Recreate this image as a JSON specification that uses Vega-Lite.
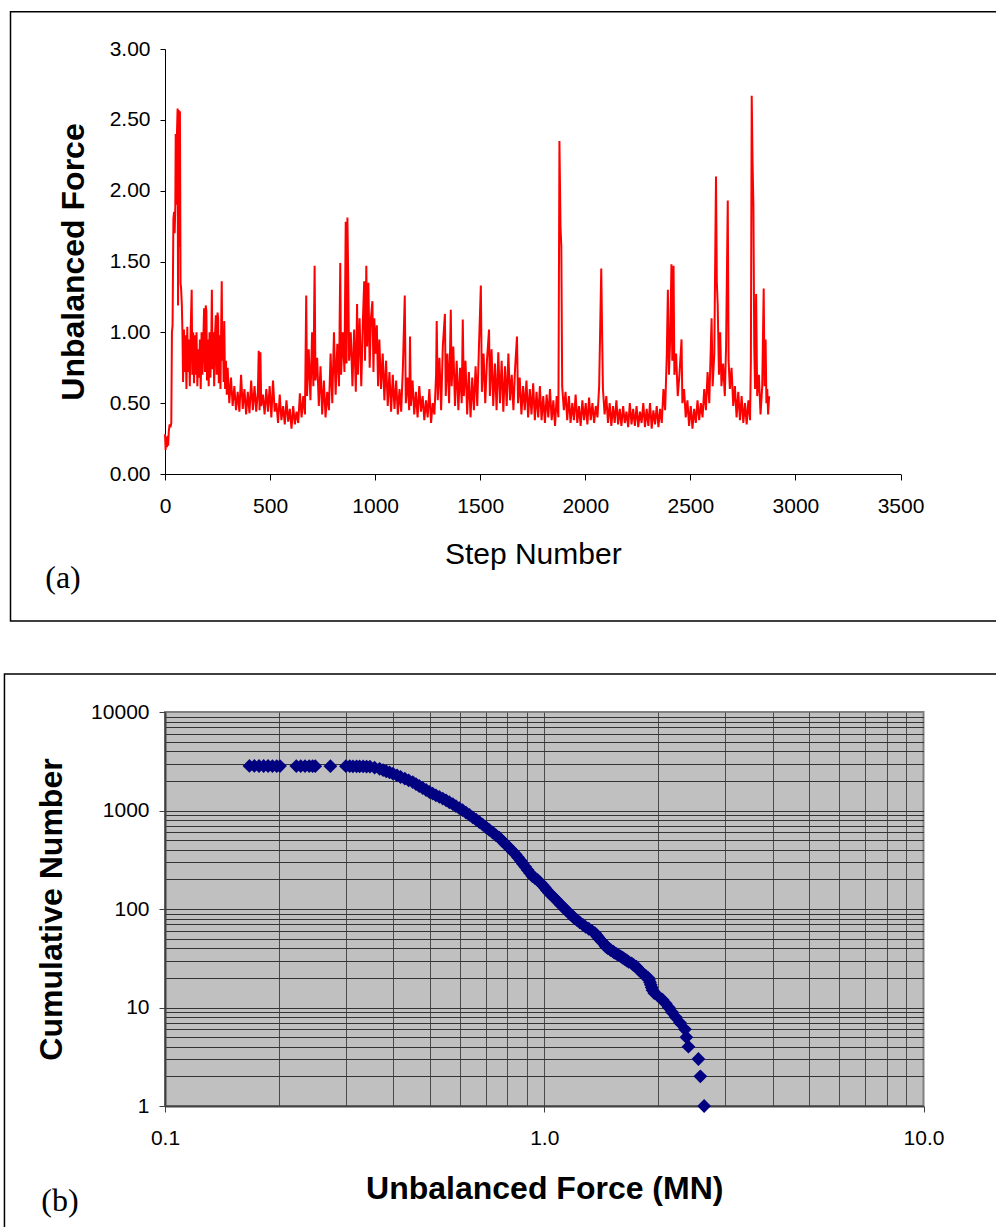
{
  "$schema": "https://vega.github.io/schema/vega-lite/v6.json",
  "background": "#ffffff",
  "padding": {"left": 2, "top": 10, "right": 0, "bottom": 0},
  "columns": 1,
  "align": "none",
  "spacing": 50,
  "config": {
    "view": {"stroke": null},
    "axis": {
      "labelFont": "Liberation Sans",
      "titleFont": "Liberation Sans",
      "labelFontSize": 21,
      "labelColor": "#000000",
      "titleColor": "#000000",
      "domainColor": "#000000",
      "tickColor": "#000000",
      "domainWidth": 1,
      "tickWidth": 1,
      "labelFlush": false,
      "labelOverlap": false,
      "grid": false
    }
  },
  "concat": [
    {
      "width": 735.5,
      "height": 425,
      "layer": [
        {
          "data": {"values": [
            {"step":0,"force":0.28},{"step":3,"force":0.17},{"step":6,"force":0.26},{"step":9,"force":0.19},{"step":12,"force":0.27},{"step":15,"force":0.20},{"step":18,"force":0.30},{"step":22,"force":0.35},{"step":26,"force":0.33},{"step":30,"force":0.36},
            {"step":33,"force":1.00},{"step":36,"force":1.05},{"step":40,"force":1.80},{"step":43,"force":1.85},{"step":46,"force":1.70},{"step":49,"force":1.88},{"step":51,"force":2.40},{"step":54,"force":1.90},{"step":57,"force":2.41},{"step":60,"force":2.58},
            {"step":62,"force":1.19},{"step":65,"force":2.57},{"step":68,"force":1.60},{"step":71,"force":2.56},{"step":74,"force":1.35},{"step":77,"force":1.30},{"step":80,"force":1.20},{"step":83,"force":1.00},{"step":86,"force":0.65},{"step":90,"force":1.02},
            {"step":94,"force":0.72},{"step":98,"force":0.98},{"step":102,"force":0.60},{"step":106,"force":1.04},{"step":110,"force":0.72},{"step":114,"force":0.95},{"step":118,"force":0.62},{"step":122,"force":1.00},{"step":127,"force":1.30},{"step":130,"force":0.70},
            {"step":134,"force":1.00},{"step":138,"force":0.64},{"step":142,"force":0.98},{"step":146,"force":0.70},{"step":150,"force":1.00},{"step":154,"force":0.62},{"step":158,"force":0.88},{"step":162,"force":0.68},{"step":166,"force":0.95},{"step":170,"force":0.60},
            {"step":174,"force":1.00},{"step":178,"force":0.70},{"step":182,"force":0.92},{"step":186,"force":1.17},{"step":190,"force":0.72},{"step":194,"force":1.19},{"step":197,"force":1.15},{"step":200,"force":0.66},{"step":204,"force":0.95},{"step":208,"force":0.62},
            {"step":212,"force":1.00},{"step":216,"force":0.68},{"step":220,"force":0.90},{"step":223,"force":1.30},{"step":226,"force":0.74},{"step":230,"force":1.00},{"step":234,"force":0.62},{"step":238,"force":0.98},{"step":242,"force":1.12},{"step":246,"force":0.70},
            {"step":250,"force":1.14},{"step":253,"force":1.10},{"step":256,"force":0.64},{"step":260,"force":0.98},{"step":264,"force":0.60},{"step":267,"force":1.00},{"step":270,"force":1.36},{"step":273,"force":0.80},{"step":276,"force":1.02},{"step":279,"force":0.65},
            {"step":282,"force":1.08},{"step":286,"force":0.60},{"step":290,"force":0.80},{"step":294,"force":0.56},{"step":298,"force":0.75},{"step":306,"force":0.50},{"step":314,"force":0.68},{"step":322,"force":0.48},{"step":330,"force":0.62},{"step":338,"force":0.45},
            {"step":346,"force":0.58},{"step":354,"force":0.44},{"step":362,"force":0.70},{"step":370,"force":0.46},{"step":378,"force":0.60},{"step":386,"force":0.42},{"step":394,"force":0.58},{"step":402,"force":0.43},{"step":410,"force":0.66},{"step":418,"force":0.45},
            {"step":426,"force":0.62},{"step":434,"force":0.44},{"step":442,"force":0.58},{"step":446,"force":0.87},{"step":450,"force":0.45},{"step":454,"force":0.86},{"step":458,"force":0.48},{"step":466,"force":0.56},{"step":474,"force":0.42},{"step":482,"force":0.60},
            {"step":490,"force":0.44},{"step":498,"force":0.62},{"step":506,"force":0.40},{"step":514,"force":0.66},{"step":522,"force":0.44},{"step":530,"force":0.50},{"step":538,"force":0.36},{"step":546,"force":0.56},{"step":554,"force":0.38},{"step":562,"force":0.48},
            {"step":570,"force":0.35},{"step":578,"force":0.52},{"step":586,"force":0.37},{"step":594,"force":0.46},{"step":602,"force":0.32},{"step":610,"force":0.48},{"step":618,"force":0.35},{"step":626,"force":0.44},{"step":634,"force":0.36},{"step":642,"force":0.57},
            {"step":650,"force":0.40},{"step":658,"force":0.55},{"step":666,"force":0.42},{"step":672,"force":1.26},{"step":676,"force":0.55},{"step":684,"force":0.88},{"step":692,"force":0.52},{"step":700,"force":1.00},{"step":706,"force":0.62},{"step":712,"force":1.47},
            {"step":716,"force":0.66},{"step":724,"force":0.82},{"step":732,"force":0.48},{"step":740,"force":0.76},{"step":748,"force":0.42},{"step":756,"force":0.66},{"step":764,"force":0.40},{"step":772,"force":0.58},{"step":780,"force":0.45},{"step":788,"force":0.85},
            {"step":796,"force":0.50},{"step":804,"force":1.00},{"step":812,"force":0.56},{"step":820,"force":0.92},{"step":828,"force":0.62},{"step":834,"force":1.49},{"step":838,"force":0.70},{"step":846,"force":1.00},{"step":854,"force":0.72},{"step":860,"force":1.78},
            {"step":864,"force":0.78},{"step":868,"force":1.81},{"step":872,"force":1.37},{"step":876,"force":0.80},{"step":884,"force":1.00},{"step":892,"force":0.62},{"step":900,"force":1.02},{"step":908,"force":0.58},{"step":914,"force":1.20},{"step":918,"force":0.70},
            {"step":926,"force":1.10},{"step":934,"force":0.62},{"step":942,"force":1.10},{"step":948,"force":1.36},{"step":952,"force":0.80},{"step":958,"force":1.47},{"step":962,"force":0.90},{"step":968,"force":1.35},{"step":974,"force":0.75},{"step":980,"force":1.10},
            {"step":987,"force":1.22},{"step":992,"force":0.72},{"step":996,"force":1.10},{"step":1002,"force":0.85},{"step":1008,"force":1.05},{"step":1014,"force":0.62},{"step":1020,"force":0.95},{"step":1028,"force":0.60},{"step":1036,"force":0.85},{"step":1044,"force":0.52},
            {"step":1052,"force":0.80},{"step":1060,"force":0.48},{"step":1068,"force":0.72},{"step":1076,"force":0.44},{"step":1084,"force":0.70},{"step":1092,"force":0.46},{"step":1100,"force":0.66},{"step":1108,"force":0.42},{"step":1116,"force":0.60},{"step":1124,"force":0.44},
            {"step":1132,"force":0.75},{"step":1141,"force":1.26},{"step":1146,"force":0.50},{"step":1154,"force":0.68},{"step":1162,"force":0.45},{"step":1166,"force":0.97},{"step":1170,"force":0.48},{"step":1178,"force":0.66},{"step":1186,"force":0.42},{"step":1194,"force":0.58},
            {"step":1202,"force":0.40},{"step":1210,"force":0.62},{"step":1218,"force":0.44},{"step":1226,"force":0.55},{"step":1234,"force":0.38},{"step":1242,"force":0.52},{"step":1250,"force":0.40},{"step":1258,"force":0.60},{"step":1266,"force":0.36},{"step":1274,"force":0.50},
            {"step":1282,"force":0.42},{"step":1290,"force":0.70},{"step":1293,"force":1.08},{"step":1298,"force":0.52},{"step":1306,"force":0.82},{"step":1314,"force":0.45},{"step":1322,"force":0.90},{"step":1332,"force":1.13},{"step":1336,"force":0.55},{"step":1344,"force":0.85},
            {"step":1352,"force":0.50},{"step":1360,"force":1.16},{"step":1364,"force":0.62},{"step":1372,"force":0.90},{"step":1380,"force":0.48},{"step":1388,"force":0.80},{"step":1396,"force":0.45},{"step":1404,"force":0.75},{"step":1412,"force":0.50},{"step":1417,"force":1.09},
            {"step":1422,"force":0.55},{"step":1430,"force":0.80},{"step":1438,"force":0.42},{"step":1446,"force":0.72},{"step":1454,"force":0.40},{"step":1462,"force":0.68},{"step":1470,"force":0.45},{"step":1478,"force":0.76},{"step":1486,"force":0.48},{"step":1494,"force":0.90},
            {"step":1503,"force":1.33},{"step":1508,"force":0.58},{"step":1516,"force":0.85},{"step":1524,"force":0.50},{"step":1532,"force":0.80},{"step":1542,"force":1.02},{"step":1546,"force":0.55},{"step":1554,"force":0.88},{"step":1562,"force":0.48},{"step":1570,"force":0.78},
            {"step":1578,"force":0.45},{"step":1586,"force":0.86},{"step":1594,"force":0.50},{"step":1602,"force":0.80},{"step":1610,"force":0.44},{"step":1618,"force":0.76},{"step":1626,"force":0.48},{"step":1634,"force":0.85},{"step":1642,"force":0.52},{"step":1650,"force":0.70},
            {"step":1658,"force":0.45},{"step":1666,"force":0.75},{"step":1675,"force":0.97},{"step":1680,"force":0.50},{"step":1688,"force":0.68},{"step":1696,"force":0.42},{"step":1704,"force":0.62},{"step":1712,"force":0.45},{"step":1720,"force":0.66},{"step":1728,"force":0.40},
            {"step":1736,"force":0.60},{"step":1744,"force":0.42},{"step":1752,"force":0.64},{"step":1760,"force":0.38},{"step":1768,"force":0.58},{"step":1776,"force":0.40},{"step":1784,"force":0.62},{"step":1792,"force":0.38},{"step":1800,"force":0.55},{"step":1808,"force":0.36},
            {"step":1816,"force":0.56},{"step":1824,"force":0.40},{"step":1832,"force":0.60},{"step":1840,"force":0.38},{"step":1848,"force":0.52},{"step":1856,"force":0.34},{"step":1864,"force":0.55},{"step":1872,"force":0.40},{"step":1877,"force":2.35},{"step":1882,"force":1.75},
            {"step":1886,"force":1.60},{"step":1890,"force":0.62},{"step":1898,"force":0.45},{"step":1906,"force":0.58},{"step":1914,"force":0.38},{"step":1922,"force":0.55},{"step":1930,"force":0.36},{"step":1938,"force":0.50},{"step":1946,"force":0.38},{"step":1954,"force":0.56},
            {"step":1962,"force":0.36},{"step":1970,"force":0.48},{"step":1978,"force":0.34},{"step":1986,"force":0.52},{"step":1994,"force":0.38},{"step":2002,"force":0.50},{"step":2010,"force":0.35},{"step":2018,"force":0.54},{"step":2026,"force":0.38},{"step":2034,"force":0.50},
            {"step":2042,"force":0.36},{"step":2050,"force":0.48},{"step":2058,"force":0.40},{"step":2066,"force":0.62},{"step":2076,"force":1.45},{"step":2080,"force":1.00},{"step":2084,"force":0.60},{"step":2092,"force":0.42},{"step":2100,"force":0.55},{"step":2108,"force":0.36},
            {"step":2116,"force":0.50},{"step":2124,"force":0.34},{"step":2132,"force":0.48},{"step":2140,"force":0.36},{"step":2148,"force":0.52},{"step":2156,"force":0.35},{"step":2164,"force":0.46},{"step":2172,"force":0.34},{"step":2180,"force":0.48},{"step":2188,"force":0.36},
            {"step":2196,"force":0.44},{"step":2204,"force":0.33},{"step":2212,"force":0.50},{"step":2220,"force":0.35},{"step":2228,"force":0.46},{"step":2236,"force":0.34},{"step":2244,"force":0.48},{"step":2252,"force":0.33},{"step":2260,"force":0.44},{"step":2268,"force":0.36},
            {"step":2276,"force":0.50},{"step":2284,"force":0.33},{"step":2292,"force":0.46},{"step":2300,"force":0.34},{"step":2308,"force":0.50},{"step":2316,"force":0.32},{"step":2324,"force":0.45},{"step":2332,"force":0.35},{"step":2340,"force":0.48},{"step":2348,"force":0.33},
            {"step":2356,"force":0.46},{"step":2364,"force":0.36},{"step":2372,"force":0.60},{"step":2380,"force":0.45},{"step":2388,"force":0.85},{"step":2393,"force":1.30},{"step":2398,"force":0.70},{"step":2404,"force":0.95},{"step":2410,"force":1.48},{"step":2414,"force":0.80},
            {"step":2420,"force":1.47},{"step":2424,"force":0.70},{"step":2432,"force":0.85},{"step":2440,"force":0.55},{"step":2448,"force":0.70},{"step":2458,"force":0.95},{"step":2462,"force":0.50},{"step":2470,"force":0.60},{"step":2478,"force":0.40},{"step":2486,"force":0.52},
            {"step":2494,"force":0.34},{"step":2502,"force":0.48},{"step":2510,"force":0.32},{"step":2518,"force":0.46},{"step":2526,"force":0.36},{"step":2534,"force":0.52},{"step":2542,"force":0.38},{"step":2550,"force":0.50},{"step":2558,"force":0.40},{"step":2566,"force":0.60},
            {"step":2574,"force":0.45},{"step":2582,"force":0.72},{"step":2590,"force":0.50},{"step":2601,"force":1.10},{"step":2606,"force":0.62},{"step":2614,"force":0.85},{"step":2622,"force":2.10},{"step":2626,"force":1.35},{"step":2630,"force":1.20},{"step":2636,"force":0.70},
            {"step":2642,"force":1.00},{"step":2648,"force":0.62},{"step":2656,"force":0.78},{"step":2664,"force":0.55},{"step":2670,"force":0.90},{"step":2678,"force":1.93},{"step":2682,"force":0.80},{"step":2688,"force":0.60},{"step":2696,"force":0.75},{"step":2704,"force":0.48},
            {"step":2712,"force":0.62},{"step":2720,"force":0.40},{"step":2728,"force":0.58},{"step":2736,"force":0.38},{"step":2744,"force":0.55},{"step":2752,"force":0.36},{"step":2760,"force":0.50},{"step":2768,"force":0.35},{"step":2776,"force":0.52},{"step":2784,"force":0.38},
            {"step":2788,"force":0.80},{"step":2792,"force":2.67},{"step":2796,"force":2.20},{"step":2800,"force":1.90},{"step":2804,"force":0.90},{"step":2808,"force":0.60},{"step":2813,"force":1.27},{"step":2818,"force":0.55},{"step":2826,"force":0.70},{"step":2834,"force":0.42},
            {"step":2842,"force":0.62},{"step":2849,"force":1.31},{"step":2853,"force":0.62},{"step":2858,"force":0.95},{"step":2862,"force":0.50},{"step":2866,"force":0.60},{"step":2870,"force":0.42},{"step":2875,"force":0.55}
          ]},
          "mark": {"type": "line", "color": "#FF0000", "strokeWidth": 2},
          "encoding": {
            "x": {
              "field": "step", "type": "quantitative",
              "scale": {"domain": [0, 3500], "nice": false, "zero": false},
              "axis": {"title": "Step Number", "values": [0, 500, 1000, 1500, 2000, 2500, 3000, 3500], "format": "d", "tickSize": 6, "labelPadding": 15, "titleFontSize": 30, "titleFontWeight": "normal", "titlePadding": 23}
            },
            "y": {
              "field": "force", "type": "quantitative",
              "scale": {"domain": [0, 3], "nice": false},
              "axis": {"title": "Unbalanced Force", "values": [0, 0.5, 1, 1.5, 2, 2.5, 3], "format": ".2f", "tickSize": 5, "labelPadding": 10, "titleFontSize": 32, "titleFontWeight": "bold", "titlePadding": 19}
            }
          }
        },
        {
          "data": {"values": [{"label": "frame"}]},
          "mark": {"type": "rect", "filled": false, "stroke": "#000000", "strokeWidth": 1.5},
          "encoding": {
            "x": {"datum": -735.2, "type": "quantitative"},
            "x2": {"datum": 4004},
            "y": {"datum": 3.263, "type": "quantitative"},
            "y2": {"datum": -1.0376}
          }
        },
        {
          "data": {"values": [{"label": "(a)"}]},
          "mark": {"type": "text", "font": "Liberation Serif", "fontSize": 32, "color": "#000000", "align": "center", "baseline": "middle"},
          "encoding": {
            "x": {"datum": -485.4, "type": "quantitative"},
            "y": {"datum": -0.734, "type": "quantitative"},
            "text": {"field": "label"}
          }
        }
      ]
    },
    {
      "width": 758.5,
      "height": 394,
      "view": {"fill": "#C0C0C0", "stroke": "#808080", "strokeWidth": 2},
      "layer": [
        {
          "data": {"values": [
            {"force":0.167,"count":2833},{"force":0.172,"count":2832},{"force":0.177,"count":2831},{"force":0.182,"count":2830},{"force":0.187,"count":2829},{"force":0.192,"count":2828},{"force":0.197,"count":2827},{"force":0.201,"count":2826},
            {"force":0.222,"count":2825},{"force":0.228,"count":2824},{"force":0.234,"count":2823},{"force":0.240,"count":2822},{"force":0.245,"count":2821},{"force":0.249,"count":2820},{"force":0.273,"count":2819},
            {"force":0.300,"count":2818},{"force":0.307,"count":2815},{"force":0.313,"count":2812},{"force":0.320,"count":2808},{"force":0.326,"count":2805},{"force":0.333,"count":2800},{"force":0.340,"count":2795},{"force":0.347,"count":2790},
            {"force":0.357,"count":2720},{"force":0.368,"count":2650},{"force":0.376,"count":2576},{"force":0.383,"count":2503},{"force":0.391,"count":2434},{"force":0.399,"count":2365},{"force":0.409,"count":2275},{"force":0.418,"count":2188},
            {"force":0.429,"count":2104},{"force":0.439,"count":2023},{"force":0.450,"count":1946},{"force":0.459,"count":1857},{"force":0.468,"count":1773},{"force":0.478,"count":1692},{"force":0.488,"count":1615},{"force":0.498,"count":1541},
            {"force":0.508,"count":1483},{"force":0.518,"count":1427},{"force":0.529,"count":1373},{"force":0.540,"count":1321},{"force":0.551,"count":1270},{"force":0.562,"count":1213},{"force":0.574,"count":1158},{"force":0.585,"count":1105},
            {"force":0.597,"count":1055},{"force":0.609,"count":1007},{"force":0.622,"count":953},{"force":0.635,"count":902},{"force":0.648,"count":853},{"force":0.661,"count":807},{"force":0.674,"count":764},{"force":0.688,"count":719},
            {"force":0.702,"count":676},{"force":0.716,"count":636},{"force":0.731,"count":598},{"force":0.745,"count":563},{"force":0.761,"count":530},{"force":0.773,"count":496},{"force":0.786,"count":465},{"force":0.800,"count":436},
            {"force":0.813,"count":408},{"force":0.827,"count":382},{"force":0.841,"count":358},{"force":0.853,"count":333},{"force":0.866,"count":310},{"force":0.878,"count":288},{"force":0.891,"count":268},{"force":0.904,"count":249},
            {"force":0.917,"count":232},{"force":0.930,"count":216},{"force":0.945,"count":206},{"force":0.960,"count":197},{"force":0.975,"count":186},{"force":0.990,"count":175},{"force":1.003,"count":165},{"force":1.016,"count":155},
            {"force":1.029,"count":146},{"force":1.045,"count":138},{"force":1.060,"count":131},{"force":1.075,"count":124},{"force":1.090,"count":117},{"force":1.107,"count":110},{"force":1.124,"count":104},{"force":1.137,"count":99},
            {"force":1.153,"count":94},{"force":1.170,"count":89},{"force":1.185,"count":85},{"force":1.200,"count":81},{"force":1.220,"count":77},{"force":1.240,"count":73},{"force":1.265,"count":69},{"force":1.285,"count":66},
            {"force":1.310,"count":63},{"force":1.335,"count":60},{"force":1.360,"count":57},{"force":1.375,"count":54},{"force":1.385,"count":52},{"force":1.395,"count":50},{"force":1.410,"count":48},{"force":1.425,"count":46},
            {"force":1.440,"count":44},{"force":1.450,"count":42},{"force":1.460,"count":41},{"force":1.470,"count":40},{"force":1.490,"count":39},{"force":1.500,"count":38},{"force":1.520,"count":37},{"force":1.530,"count":36},
            {"force":1.550,"count":35},{"force":1.570,"count":34},{"force":1.590,"count":33},{"force":1.610,"count":32},{"force":1.630,"count":31},{"force":1.650,"count":30},{"force":1.670,"count":29},{"force":1.700,"count":28},
            {"force":1.720,"count":27},{"force":1.750,"count":26},{"force":1.760,"count":25},{"force":1.780,"count":24},{"force":1.800,"count":23},{"force":1.820,"count":22},{"force":1.850,"count":21},{"force":1.880,"count":20},
            {"force":1.890,"count":19},{"force":1.900,"count":18},{"force":1.910,"count":17},{"force":1.920,"count":16},{"force":1.930,"count":15},{"force":1.950,"count":14},{"force":2.000,"count":13},{"force":2.050,"count":12},
            {"force":2.090,"count":11},{"force":2.130,"count":10},{"force":2.170,"count":9},{"force":2.220,"count":8},{"force":2.280,"count":7},{"force":2.350,"count":6},{"force":2.370,"count":5},{"force":2.400,"count":4},
            {"force":2.550,"count":3},{"force":2.580,"count":2},{"force":2.640,"count":1}
          ]},
          "mark": {"type": "point", "shape": "diamond", "filled": true, "size": 190, "color": "#000080", "opacity": 1, "strokeWidth": 0},
          "encoding": {
            "x": {
              "field": "force", "type": "quantitative",
              "scale": {"type": "log", "domain": [0.1, 10], "nice": false},
              "axis": {
                "title": "Unbalanced Force (MN)",
                "values": [0.1, 0.2, 0.3, 0.4, 0.5, 0.6, 0.7, 0.8, 0.9, 1, 2, 3, 4, 5, 6, 7, 8, 9, 10],
                "labelExpr": "indexof([0.1, 1, 10], datum.value) >= 0 ? format(datum.value, '.1f') : ''",
                "tickSize": 6,
                "tickColor": "#404040",
                "tickOpacity": {"condition": {"test": "indexof([0.1, 1, 10], datum.value) >= 0", "value": 1}, "value": 0},
                "labelPadding": 15,
                "grid": true,
                "gridColor": "#4a4a4a",
                "gridWidth": 1,
                "gridOpacity": {"condition": {"test": "datum.value == 10", "value": 0}, "value": 1},
                "domainColor": "#404040",
                "domainWidth": 2,
                "titleFontSize": 32,
                "titleFontWeight": "bold",
                "titlePadding": 25
              }
            },
            "y": {
              "field": "count", "type": "quantitative",
              "scale": {"type": "log", "domain": [1, 10000], "nice": false},
              "axis": {
                "title": "Cumulative Number",
                "values": [1, 2, 3, 4, 5, 6, 7, 8, 9, 10, 20, 30, 40, 50, 60, 70, 80, 90, 100, 200, 300, 400, 500, 600, 700, 800, 900, 1000, 2000, 3000, 4000, 5000, 6000, 7000, 8000, 9000, 10000],
                "labelExpr": "indexof([1, 10, 100, 1000, 10000], datum.value) >= 0 ? format(datum.value, 'd') : ''",
                "tickSize": 6,
                "tickColor": "#404040",
                "tickOpacity": {"condition": {"test": "indexof([1, 10, 100, 1000, 10000], datum.value) >= 0", "value": 1}, "value": 0},
                "labelPadding": 10,
                "grid": true,
                "gridColor": "#333333",
                "gridWidth": 1,
                "gridOpacity": {"condition": {"test": "datum.value == 10000", "value": 0}, "value": 1},
                "domainColor": "#404040",
                "domainWidth": 2,
                "titleFontSize": 32,
                "titleFontWeight": "bold",
                "titlePadding": 22.5
              }
            }
          }
        },
        {
          "data": {"values": [{"label": "frame"}]},
          "mark": {"type": "rect", "filled": false, "stroke": "#000000", "strokeWidth": 1.5},
          "encoding": {
            "x": {"datum": 0.03773, "type": "quantitative"},
            "x2": {"datum": 16.55},
            "y": {"datum": 24310, "type": "quantitative"},
            "y2": {"datum": 0.0502}
          }
        },
        {
          "data": {"values": [{"label": "(b)"}]},
          "mark": {"type": "text", "font": "Liberation Serif", "fontSize": 32, "color": "#000000", "align": "center", "baseline": "middle"},
          "encoding": {
            "x": {"datum": 0.05285, "type": "quantitative"},
            "y": {"datum": 0.1073, "type": "quantitative"},
            "text": {"field": "label"}
          }
        }
      ]
    }
  ]
}
